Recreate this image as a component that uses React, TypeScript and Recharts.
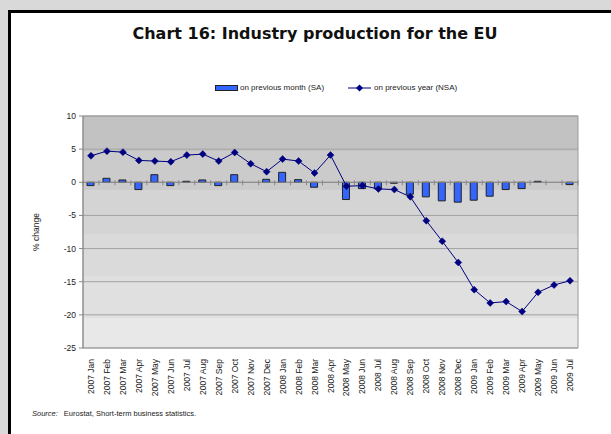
import { ComposedChart, Bar, Line, XAxis, YAxis, CartesianGrid, ReferenceLine, ReferenceArea, Legend } from 'recharts';

const months = [
  '2007 Jan', '2007 Feb', '2007 Mar', '2007 Apr', '2007 May', '2007 Jun', '2007 Jul', '2007 Aug', '2007 Sep', '2007 Oct', '2007 Nov', '2007 Dec',
  '2008 Jan', '2008 Feb', '2008 Mar', '2008 Apr', '2008 May', '2008 Jun', '2008 Jul', '2008 Aug', '2008 Sep', '2008 Oct', '2008 Nov', '2008 Dec',
  '2009 Jan', '2009 Feb', '2009 Mar', '2009 Apr', '2009 May', '2009 Jun', '2009 Jul',
];

// on previous month (SA)
const monthChange = [
  -0.5, 0.6, 0.35, -1.1, 1.15, -0.5, 0.15, 0.35, -0.5, 1.15, 0, 0.45,
  1.5, 0.4, -0.75, 0, -2.6, -0.95, -1.0, -0.15, -1.8, -2.2, -2.8, -3.0,
  -2.7, -2.1, -1.1, -0.95, 0.15, 0, -0.35,
];

// on previous year (NSA)
const yearChange = [
  4.0, 4.7, 4.55, 3.3, 3.2, 3.1, 4.1, 4.25, 3.2, 4.5, 2.8, 1.6,
  3.5, 3.2, 1.4, 4.1, -0.6, -0.5, -1.0, -1.1, -2.2, -5.8, -8.9, -12.1,
  -16.2, -18.2, -18.0, -19.5, -16.6, -15.5, -14.85,
];

const yTicks = [10, 5, 0, -5, -10, -15, -20, -25];

const data = months.map((m, i) => ({ month: m, mom: monthChange[i], yoy: yearChange[i] }));

const axisFont = '"Liberation Sans", Arial, sans-serif';
const BAR_BLUE = '#3366ff';
const NAVY = '#000080';

const Diamond = (props: any) => {
  const { cx, cy } = props;
  if (cx == null || cy == null) return null;
  const r = 3.5;
  return <polygon points={`${cx},${cy - r} ${cx + r},${cy} ${cx},${cy + r} ${cx - r},${cy}`} fill={NAVY} stroke={NAVY} strokeWidth={0.5} />;
};

const MonthTick = (props: any) => {
  const { x, y, payload } = props;
  return (
    <text
      x={0}
      y={0}
      transform={`translate(${x + 3}, ${y + 3}) rotate(-90)`}
      textAnchor="end"
      fontSize={8.5}
      fontFamily={axisFont}
      fill="#222"
    >
      {payload.value}
    </text>
  );
};

// zero line with Excel-style tick marks between categories
const ZeroAxis = (props: any) => {
  const { x1, x2, y1 } = props;
  const n = months.length;
  const step = (x2 - x1) / n;
  const marks = [];
  for (let i = 0; i <= n; i++) {
    const x = x1 + i * step;
    marks.push(<line key={i} x1={x} x2={x} y1={y1 - 2} y2={y1 + 3} stroke="#888" strokeWidth={1} />);
  }
  return (
    <g>
      <line x1={x1} x2={x2} y1={y1} y2={y1} stroke="#888" strokeWidth={1} />
      {marks}
    </g>
  );
};

const LegendContent = () => (
  <div style={{ display: 'flex', alignItems: 'center', fontFamily: axisFont, fontSize: 8, color: '#222', paddingLeft: 215 }}>
    <svg width={23} height={6} style={{ marginRight: 2 }}>
      <rect x={0.5} y={0.5} width={22} height={5} fill={BAR_BLUE} stroke="#222" />
    </svg>
    <span>on previous month (SA)</span>
    <svg width={24} height={8} style={{ marginLeft: 24, marginRight: 2 }}>
      <line x1={0} x2={23} y1={4} y2={4} stroke={NAVY} strokeWidth={1} />
      <polygon points="11.5,0.5 15,4 11.5,7.5 8,4" fill={NAVY} />
    </svg>
    <span>on previous year (NSA)</span>
  </div>
);

export default function App() {
  return (
    <div style={{ position: 'fixed', left: 0, top: 0, width: 611, height: 434, background: '#d9d9d9', overflow: 'hidden' }}>
      <div style={{ position: 'absolute', left: 8, top: 10, right: 0, bottom: 0, background: '#fff', borderLeft: '3px solid #000', borderTop: '3px solid #000' }} />
      <div style={{ position: 'absolute', left: 0, top: 24, width: 630, textAlign: 'center', fontFamily: '"DejaVu Sans", sans-serif', fontWeight: 'bold', fontSize: 16, color: '#111' }}>
        Chart 16: Industry production for the EU
      </div>
      <div style={{ position: 'absolute', left: 0, top: 0 }}>
        <ComposedChart width={611} height={434} data={data} margin={{ top: 116, right: 33, bottom: 46, left: 33 }} barSize={7}>
          <defs>
            <linearGradient id="plotBg" x1="0" y1="0" x2="0" y2="1">
              <stop offset="0" stopColor="#c2c2c2" />
              <stop offset="0.15" stopColor="#c2c2c2" />
              <stop offset="0.15" stopColor="#cbcbcb" />
              <stop offset="0.32" stopColor="#cbcbcb" />
              <stop offset="0.32" stopColor="#d4d4d4" />
              <stop offset="0.51" stopColor="#d4d4d4" />
              <stop offset="0.51" stopColor="#dadada" />
              <stop offset="0.69" stopColor="#dadada" />
              <stop offset="0.69" stopColor="#e0e0e0" />
              <stop offset="0.87" stopColor="#e0e0e0" />
              <stop offset="0.87" stopColor="#e8e8e8" />
              <stop offset="1" stopColor="#e8e8e8" />
            </linearGradient>
          </defs>
          <CartesianGrid vertical={false} stroke="#a3a3a3" fill="url(#plotBg)" fillOpacity={1} />
          <ReferenceArea y1={10} y2={-25} fill="none" fillOpacity={0} stroke="#9a9a9a" strokeWidth={1} />
          <XAxis dataKey="month" interval={0} axisLine={false} tickLine={false} height={40} tick={<MonthTick />} />
          <YAxis
            domain={[-25, 10]}
            ticks={yTicks}
            width={50}
            tickSize={4}
            tickMargin={3}
            stroke="#888"
            tick={{ fontSize: 8.5, fontFamily: axisFont, fill: '#222' }}
            label={{
              content: (p: any) => {
                const vb = p.viewBox;
                const cx = vb.x + 6;
                const cy = vb.y + vb.height / 2;
                return (
                  <text x={cx} y={cy} transform={`rotate(-90, ${cx}, ${cy})`} textAnchor="middle" fontSize={8.5} fontFamily={axisFont} fill="#222">
                    % change
                  </text>
                );
              },
            }}
          />
          <ReferenceLine y={0} shape={<ZeroAxis />} />
          <Legend verticalAlign="middle" align="center" layout="horizontal" wrapperStyle={{ top: 83, left: 0, width: 611 }} content={<LegendContent />} />
          <Bar dataKey="mom" name="on previous month (SA)" fill={BAR_BLUE} stroke="#222" strokeWidth={1} isAnimationActive={false} />
          <Line dataKey="yoy" name="on previous year (NSA)" stroke={NAVY} strokeWidth={1} dot={<Diamond />} activeDot={false} isAnimationActive={false} />
        </ComposedChart>
      </div>
      <div style={{ position: 'absolute', left: 32, top: 409, fontFamily: axisFont, fontSize: 7.5, color: '#222', whiteSpace: 'nowrap' }}>
        <i>Source:</i>
        <span style={{ marginLeft: 6 }}>Eurostat, Short-term business statistics.</span>
      </div>
    </div>
  );
}
